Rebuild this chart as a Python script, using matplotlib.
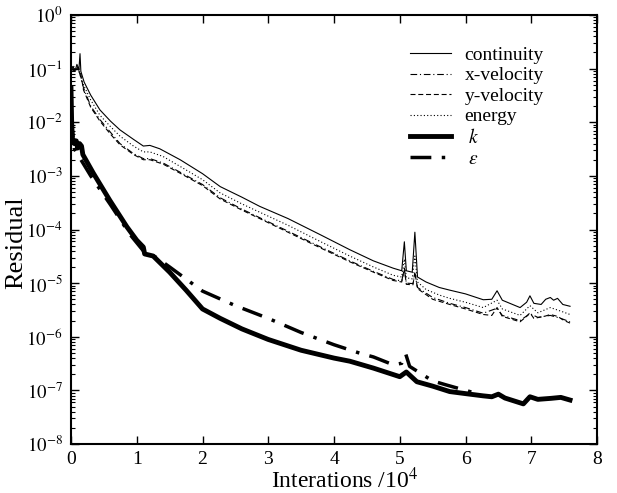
import matplotlib
matplotlib.use("Agg")
import matplotlib.pyplot as plt
from matplotlib.ticker import LogLocator, FixedLocator, NullFormatter

plt.rcParams['font.family'] = ['Liberation Serif', 'DejaVu Serif']
plt.rcParams['mathtext.fontset'] = 'stix'

# ---------------- data (iterations in units of 10^4) ----------------
cont_x = [0.00, 0.03, 0.06, 0.09, 0.12, 0.137, 0.15, 0.20, 0.30, 0.44, 0.60, 0.745, 0.95, 1.10, 1.20,
          1.35, 1.66, 2.00, 2.27, 2.60, 2.87, 3.30, 3.80, 4.24, 4.60, 4.90, 5.03, 5.07, 5.10, 5.19,
          5.23, 5.27, 5.40, 5.60, 5.76, 6.00, 6.27, 6.40, 6.48, 6.56, 6.83, 6.93, 6.98, 7.04, 7.15,
          7.22, 7.29, 7.34, 7.40, 7.48, 7.59]
cont_y = [1.0e-1, 1.1e-1, 8.9e-2, 1.2e-1, 9.5e-2, 1.9e-1, 8.9e-2, 5.6e-2, 3.2e-2, 1.7e-2, 1.05e-2, 7.2e-3,
          4.8e-3, 3.6e-3, 3.7e-3, 3.2e-3, 2.0e-3, 1.1e-3, 6.3e-4, 4.0e-4, 2.7e-4, 1.6e-4, 7.9e-5, 4.2e-5,
          2.6e-5, 1.9e-5, 1.7e-5, 5.9e-5, 1.7e-5, 1.6e-5, 8.9e-5, 1.3e-5, 1.05e-5, 8.3e-6, 7.4e-6, 6.3e-6,
          4.9e-6, 5.0e-6, 7.2e-6, 4.8e-6, 3.5e-6, 4.4e-6, 5.8e-6, 4.2e-6, 4.0e-6, 5.0e-6, 5.4e-6, 4.8e-6,
          5.2e-6, 4.0e-6, 3.7e-6]

xvel_x = [0.00, 0.04, 0.08, 0.13, 0.19, 0.30, 0.44, 0.60, 0.745, 0.95, 1.10, 1.20, 1.40, 1.66, 2.00,
          2.27, 2.60, 2.87, 3.30, 3.80, 4.24, 4.60, 4.90, 5.03, 5.07, 5.10, 5.20, 5.23, 5.27, 5.50,
          5.76, 6.00, 6.27, 6.48, 6.56, 6.83, 6.98, 7.10, 7.29, 7.45, 7.59]
xvel_y = [1.12e-1, 9.5e-2, 1.07e-1, 8.3e-2, 4.4e-2, 2.0e-2, 1.12e-2, 6.5e-3, 4.0e-3, 2.6e-3, 2.1e-3,
          2.1e-3, 1.74e-3, 1.17e-3, 6.9e-4, 3.9e-4, 2.4e-4, 1.66e-4, 9.3e-5, 4.7e-5, 2.6e-5, 1.66e-5,
          1.17e-5, 1.1e-5, 1.8e-5, 1.0e-5, 9.8e-6, 1.5e-5, 8.3e-6, 5.4e-6, 4.2e-6, 3.5e-6, 2.75e-6,
          3.4e-6, 2.5e-6, 2.0e-6, 2.7e-6, 2.3e-6, 2.5e-6, 2.2e-6, 1.9e-6]

yvel_x = [0.00, 0.05, 0.10, 0.15, 0.19, 0.30, 0.44, 0.60, 0.745, 0.95, 1.10, 1.20, 1.40, 1.66, 2.00,
          2.27, 2.60, 2.87, 3.30, 3.80, 4.24, 4.60, 4.90, 5.03, 5.07, 5.10, 5.20, 5.23, 5.27, 5.50,
          5.76, 6.00, 6.27, 6.40, 6.48, 6.56, 6.83, 6.93, 6.98, 7.04, 7.20, 7.29, 7.40, 7.50, 7.59]
yvel_y = [1.0e-1, 8.9e-2, 1.05e-1, 7.9e-2, 4.0e-2, 1.9e-2, 1.05e-2, 6.0e-3, 3.8e-3, 2.5e-3, 2.0e-3,
          2.0e-3, 1.66e-3, 1.12e-3, 6.6e-4, 3.7e-4, 2.3e-4, 1.6e-4, 8.9e-5, 4.5e-5, 2.5e-5, 1.6e-5,
          1.12e-5, 1.05e-5, 1.9e-5, 9.5e-6, 9.3e-6, 1.6e-5, 7.9e-6, 5.0e-6, 4.0e-6, 3.3e-6, 2.6e-6,
          2.5e-6, 3.5e-6, 2.4e-6, 1.9e-6, 2.4e-6, 2.8e-6, 2.2e-6, 2.4e-6, 2.6e-6, 2.4e-6, 2.0e-6, 1.8e-6]

energy_x = [0.00, 0.04, 0.08, 0.12, 0.17, 0.30, 0.44, 0.60, 0.745, 0.95, 1.10, 1.20, 1.40, 1.66, 2.00,
            2.27, 2.60, 2.87, 3.30, 3.80, 4.24, 4.60, 4.90, 5.03, 5.07, 5.10, 5.19, 5.23, 5.27, 5.40,
            5.60, 5.76, 6.00, 6.27, 6.48, 6.56, 6.83, 6.98, 7.10, 7.29, 7.45, 7.59]
energy_y = [1.0e-1, 1.1e-1, 9.5e-2, 1.0e-1, 5.6e-2, 2.6e-2, 1.35e-2, 8.3e-3, 5.5e-3, 3.6e-3, 2.8e-3,
            2.8e-3, 2.3e-3, 1.5e-3, 8.5e-4, 4.8e-4, 3.0e-4, 2.1e-4, 1.2e-4, 5.9e-5, 3.2e-5, 2.0e-5,
            1.4e-5, 1.3e-5, 2.8e-5, 1.26e-5, 1.2e-5, 3.2e-5, 1.05e-5, 7.6e-6, 6.0e-6, 5.2e-6, 4.4e-6,
            3.5e-6, 4.8e-6, 3.3e-6, 2.5e-6, 3.8e-6, 2.8e-6, 3.5e-6, 3.0e-6, 2.6e-6]

k_x = [0.000, 0.010, 0.020, 0.05, 0.08, 0.10, 0.13, 0.16, 0.18, 0.34, 0.59, 0.85, 1.00, 1.10, 1.12,
       1.25, 1.50, 1.75, 2.00, 2.27, 2.60, 3.00, 3.50, 4.00, 4.24, 4.60, 5.00, 5.10, 5.26, 5.50,
       5.76, 6.00, 6.27, 6.40, 6.50, 6.60, 6.88, 6.98, 7.10, 7.30, 7.45, 7.59]
k_y = [4.4e-2, 1.0e-2, 5.0e-3, 4.0e-3, 4.5e-3, 3.3e-3, 4.0e-3, 3.6e-3, 2.5e-3, 1.12e-3, 3.5e-4, 1.12e-4,
       6.3e-5, 4.7e-5, 3.5e-5, 3.2e-5, 1.6e-5, 7.4e-6, 3.3e-6, 2.2e-6, 1.4e-6, 8.9e-7, 5.6e-7, 4.0e-7,
       3.5e-7, 2.6e-7, 1.8e-7, 2.2e-7, 1.45e-7, 1.2e-7, 9.5e-8, 8.7e-8, 7.9e-8, 7.6e-8, 8.5e-8, 7.2e-8,
       5.6e-8, 7.6e-8, 6.8e-8, 7.1e-8, 7.4e-8, 6.6e-8]

eps_x = [0.00, 0.05, 0.30, 0.60, 0.90, 1.10, 1.30, 1.50, 2.00, 2.50, 3.00, 3.50, 4.00, 4.40, 4.60,
         4.90, 5.03, 5.09, 5.15, 5.26, 5.50, 5.71, 6.00, 6.15]
eps_y = [1.26e-2, 3.2e-3, 1.0e-3, 2.9e-4, 8.0e-5, 4.0e-5, 3.0e-5, 2.0e-5, 7.1e-6, 3.8e-6, 2.2e-6,
         1.2e-6, 7.1e-7, 4.9e-7, 4.2e-7, 3.0e-7, 3.2e-7, 4.8e-7, 2.8e-7, 2.3e-7, 1.5e-7, 1.26e-7,
         1.0e-7, 8.9e-8]

x_ticks = [0, 1, 2, 3, 4, 5, 6, 7, 8]
y_exponents = [0, -1, -2, -3, -4, -5, -6, -7, -8]

# ---------------- figure ----------------
fig = plt.figure(figsize=(6.17, 4.93), dpi=100)
ax = fig.add_axes([71/617, 1 - 444/493, (597-71)/617, (444-15)/493])

ax.plot(cont_x, cont_y, color='black', lw=0.8, ls='-', label='continuity')
ax.plot(xvel_x, xvel_y, color='black', lw=0.8, ls=(0, (6, 2.5, 1, 2.5)), label='x-velocity')
ax.plot(yvel_x, yvel_y, color='black', lw=0.8, ls=(0, (4.5, 2.5)), label='y-velocity')
ax.plot(energy_x, energy_y, color='black', lw=0.8, ls=(0, (1, 2)), label='energy')
ax.plot(k_x, k_y, color='black', lw=3.5, ls='-', label=r' $k$')
ax.plot(eps_x, eps_y, color='black', lw=2.5, ls=(0, (6, 3, 1, 3)), label=r' $\varepsilon$')

ax.set_yscale('log')
ax.set_xlim(0, 8)
ax.set_ylim(1e-8, 1e0)

ax.xaxis.set_major_locator(FixedLocator(x_ticks))
ax.set_xticklabels([str(t) for t in x_ticks])
ax.yaxis.set_major_locator(FixedLocator([10.0**e for e in y_exponents]))
ax.set_yticklabels([r'$10^{%d}$' % e for e in y_exponents])
ax.yaxis.set_minor_locator(LogLocator(base=10, subs=range(2, 10), numticks=20))
ax.yaxis.set_minor_formatter(NullFormatter())

ax.tick_params(which='major', direction='in', length=6, width=1.0, top=True, right=True,
               labelsize=14, pad=5)
ax.tick_params(axis='y', which='major', labelsize=13.5, pad=6)
ax.tick_params(which='minor', direction='in', length=3, width=0.8, top=True, right=True)
for s in ax.spines.values():
    s.set_linewidth(1.5)

ax.set_xlabel(r'Interations /10$^{4}$', fontsize=17)
ax.xaxis.set_label_coords(0.521, -0.056)
ax.set_ylabel('Residual', fontsize=19)
ax.yaxis.set_label_coords(-0.083, 0.47)

leg = ax.legend(loc='upper left', bbox_to_anchor=(0.626, 0.95), frameon=False, fontsize=14,
                handlelength=2.1, handletextpad=0.7, labelspacing=0.15, borderpad=0)

fig.savefig('out.png', dpi=100)
